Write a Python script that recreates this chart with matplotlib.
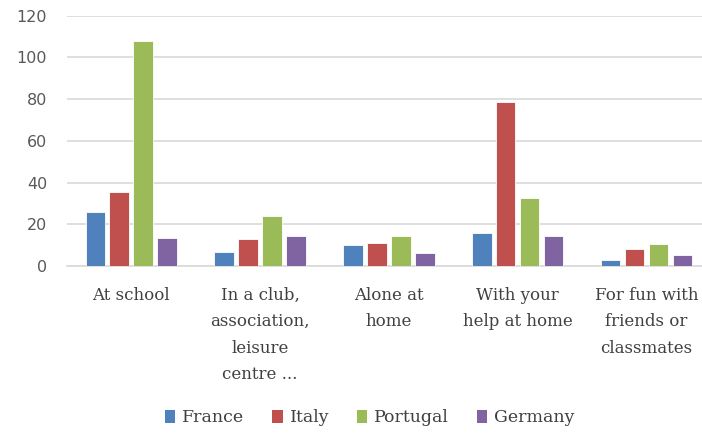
import numpy as np
import matplotlib
matplotlib.use("Agg")
import matplotlib.pyplot as plt
from matplotlib.patches import Patch

categories = ["At school", "In a club,\nassociation,\nleisure\ncentre ...", "Alone at\nhome",
              "With your\nhelp at home", "For fun with\nfriends or\nclassmates"]
countries = ["France", "Italy", "Portugal", "Germany"]
france = [26, 6.5, 10, 16, 3]
italy = [35.5, 12.8, 11, 78.5, 8.3]
portugal = [108, 24, 14.4, 32.7, 10.7]
germany = [13.6, 14.4, 6.4, 14.4, 5.5]
colors = ["#4F81BD", "#C0504D", "#9BBB59", "#8064A2"]

series = [france, italy, portugal, germany]

fig = plt.figure(figsize=(7.02, 4.34), dpi=100)
ax = fig.add_axes([0.095, 0.387, 0.918, 0.577])

x = np.arange(len(categories))
pitch = 0.186
width = 0.15
for i, (vals, c) in enumerate(zip(series, colors)):
    ax.bar(x + (i - 1.5) * pitch, vals, width, color=c, edgecolor="white",
           linewidth=0.6, zorder=3, label=countries[i])

ax.set_ylim(0, 120)
ax.set_xlim(-0.5, len(categories) - 0.5)
ax.set_yticks(range(0, 121, 20))
ax.yaxis.grid(True, color="#D9D9D9", linewidth=1.2, zorder=0)
for s in ["top", "right", "left"]:
    ax.spines[s].set_visible(False)
ax.spines["bottom"].set_color("#D9D9D9")
ax.spines["bottom"].set_linewidth(1.2)
ax.tick_params(axis="y", length=0, pad=14, labelsize=11.5, labelcolor="#595959")
ax.tick_params(axis="x", length=0, pad=15)
ax.set_xticks(x)
ax.set_xticklabels(categories, family="DejaVu Serif", fontsize=12, color="#404040",
                   linespacing=1.72, va="top")

handles = [Patch(facecolor=c, edgecolor="none") for c in colors]
fig.legend(handles, countries, loc="center", bbox_to_anchor=(0.527, 0.037), ncol=4,
           frameon=False, handlelength=0.6, handleheight=0.8, handletextpad=0.4,
           columnspacing=1.6, prop={"family": "DejaVu Serif", "size": 12.5},
           labelcolor="#404040")

fig.savefig("out.png", dpi=100)
